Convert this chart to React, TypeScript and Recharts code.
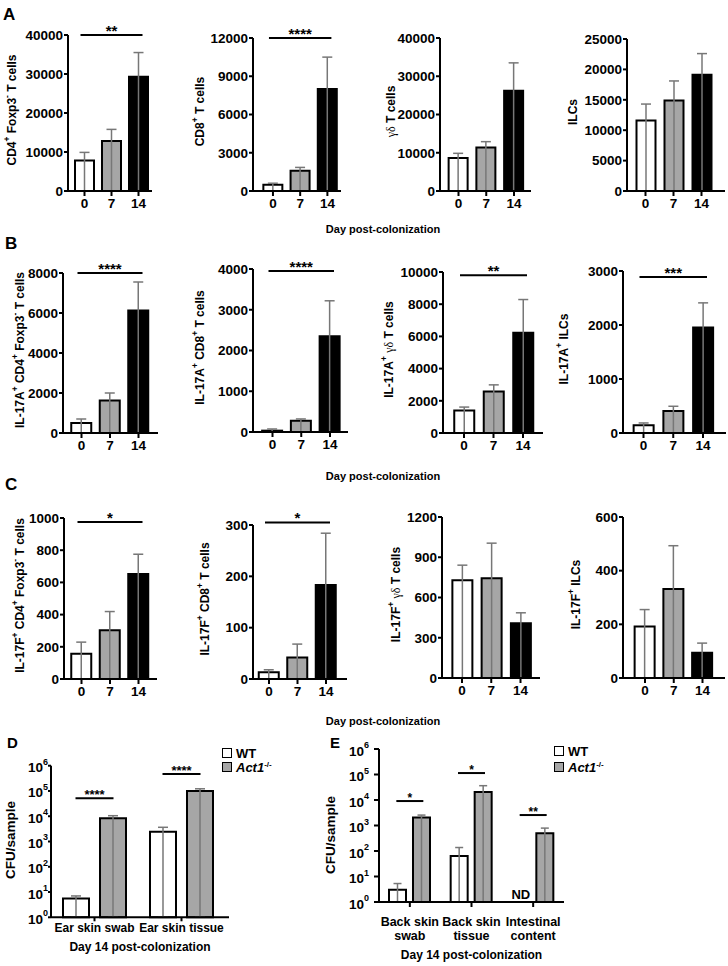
import React from "react";
import {
  BarChart,
  Bar,
  XAxis,
  YAxis,
  ErrorBar,
  Cell,
  ReferenceLine,
  Legend,
  LabelList,
} from "recharts";

const FONT = '"Liberation Sans", Arial, Helvetica, sans-serif';
const SERIF = '"Liberation Serif", "Times New Roman", serif';
const GRAY = "#a6a6a6";
const WHISKER = "#777777";

const days = ["0", "7", "14"];
const dayFills = ["#ffffff", GRAY, "#000000"];

// A - total cells
const cd4Mean = [7800, 12800, 29300];
const cd4Err = [9900, 15800, 35500];
const cd8Mean = [500, 1590, 8000];
const cd8Err = [610, 1850, 10500];
const gdMean = [8600, 11400, 26200];
const gdErr = [9850, 12900, 33500];
const ilcMean = [11600, 14900, 19100];
const ilcErr = [14300, 18100, 22600];

// B - IL-17A+
const il17aCd4Mean = [500, 1630, 6130];
const il17aCd4Err = [700, 2000, 7550];
const il17aCd8Mean = [33, 278, 2350];
const il17aCd8Err = [74, 320, 3220];
const il17aGdMean = [1400, 2580, 6230];
const il17aGdErr = [1610, 2990, 8290];
const il17aIlcMean = [142, 408, 1955];
const il17aIlcErr = [186, 495, 2410];

// C - IL-17F+
const il17fCd4Mean = [157, 303, 652];
const il17fCd4Err = [229, 419, 775];
const il17fCd8Mean = [13, 42, 183];
const il17fCd8Err = [18, 68, 284];
const il17fGdMean = [728, 743, 409];
const il17fGdErr = [841, 1005, 486];
const il17fIlcMean = [192, 332, 94];
const il17fIlcErr = [255, 493, 130];

// y ticks
const ticksA1 = [0, 10000, 20000, 30000, 40000];
const ticksA2 = [0, 3000, 6000, 9000, 12000];
const ticksA3 = [0, 10000, 20000, 30000, 40000];
const ticksA4 = [0, 5000, 10000, 15000, 20000, 25000];
const ticksB1 = [0, 2000, 4000, 6000, 8000];
const ticksB2 = [0, 1000, 2000, 3000, 4000];
const ticksB3 = [0, 2000, 4000, 6000, 8000, 10000];
const ticksB4 = [0, 1000, 2000, 3000];
const ticksC1 = [0, 200, 400, 600, 800, 1000];
const ticksC2 = [0, 100, 200, 300];
const ticksC3 = [0, 300, 600, 900, 1200];
const ticksC4 = [0, 200, 400, 600];

// significance (stars, y value of the bar)
const sigStars = ["**", "****", "", "", "****", "****", "**", "***", "*", "*", "", ""];
const sigLevel = [40000, 12000, 0, 0, 8000, 3950, 9800, 2890, 975, 305, 0, 0];

// D - ear skin, CFU/sample
const dSites = ["Ear skin swab", "Ear skin tissue"];
const dWT = [5.5, 2450];
const dWTErr = [7, 3650];
const dAct = [8300, 100000];
const dActErr = [10500, 122000];
const dSigStars = ["****", "****"];
const dSigLevel = [51000, 470000];

// E - back skin / gut, CFU/sample
const eSites = ["Back skin swab", "Back skin tissue", "Intestinal content"];
const eWT = [3, 64, null];
const eWTErr = [5.3, 137, null];
const eAct = [2080, 20500, 500];
const eActErr = [2560, 36400, 790];
const eNd = ["", "", "ND"];
const eSigStars = ["*", "*", "**"];
const eSigLevel = [9100, 114000, 2570];

const logTicks = [1, 10, 100, 1000, 10000, 100000, 1000000];

type Part = [string, string?];

const plus: Part = ["+", "sup"];
const minus: Part = ["-", "sup"];
const gd: Part = ["\u03b3\u03b4", "greek"];

const labels: Part[][] = [
  [["CD4"], plus, [" Foxp3"], minus, [" T cells"]],
  [["CD8"], plus, [" T cells"]],
  [gd, [" T cells"]],
  [["ILCs"]],
  [["IL-17A"], plus, [" CD4"], plus, [" Foxp3"], minus, [" T cells"]],
  [["IL-17A"], plus, [" CD8"], plus, [" T cells"]],
  [["IL-17A"], plus, [" "], gd, [" T cells"]],
  [["IL-17A"], plus, [" ILCs"]],
  [["IL-17F"], plus, [" CD4"], plus, [" Foxp3"], minus, [" T cells"]],
  [["IL-17F"], plus, [" CD8"], plus, [" T cells"]],
  [["IL-17F"], plus, [" "], gd, [" T cells"]],
  [["IL-17F"], plus, [" ILCs"]],
];

const means = [cd4Mean, cd8Mean, gdMean, ilcMean, il17aCd4Mean, il17aCd8Mean, il17aGdMean, il17aIlcMean, il17fCd4Mean, il17fCd8Mean, il17fGdMean, il17fIlcMean];
const errs = [cd4Err, cd8Err, gdErr, ilcErr, il17aCd4Err, il17aCd8Err, il17aGdErr, il17aIlcErr, il17fCd4Err, il17fCd8Err, il17fGdErr, il17fIlcErr];
const tickSets = [ticksA1, ticksA2, ticksA3, ticksA4, ticksB1, ticksB2, ticksB3, ticksB4, ticksC1, ticksC2, ticksC3, ticksC4];

// layout of the 12 small panels (pixels)
const layout = [
  { labelX: 12, axisX: 68, axisEnd: 152, c0: 84.5, sp: 27, topY: 35, zeroY: 191, bar: 19 },
  { labelX: 200, axisX: 253, axisEnd: 341, c0: 273, sp: 27.3, topY: 38, zeroY: 191, bar: 19 },
  { labelX: 391, axisX: 440, axisEnd: 531, c0: 458.5, sp: 27.75, topY: 38, zeroY: 191, bar: 19 },
  { labelX: 573, axisX: 627, axisEnd: 725, c0: 645.5, sp: 28, topY: 39, zeroY: 191, bar: 19 },
  { labelX: 20, axisX: 63, axisEnd: 158, c0: 81.5, sp: 28.5, topY: 273, zeroY: 433, bar: 20 },
  { labelX: 200, axisX: 253, axisEnd: 348, c0: 272.5, sp: 28.75, topY: 269, zeroY: 432, bar: 20 },
  { labelX: 389, axisX: 443, axisEnd: 543, c0: 464, sp: 29.5, topY: 272, zeroY: 433, bar: 20 },
  { labelX: 564, axisX: 623, axisEnd: 726, c0: 643.5, sp: 29.75, topY: 271, zeroY: 433, bar: 20 },
  { labelX: 20, axisX: 64, axisEnd: 157, c0: 81.5, sp: 28.5, topY: 518, zeroY: 679, bar: 20 },
  { labelX: 205, axisX: 253, axisEnd: 347, c0: 269, sp: 28.5, topY: 525, zeroY: 679, bar: 20 },
  { labelX: 396, axisX: 442, axisEnd: 540, c0: 462, sp: 29.25, topY: 517, zeroY: 678, bar: 20 },
  { labelX: 576, axisX: 623, axisEnd: 725, c0: 645, sp: 28.75, topY: 517, zeroY: 678, bar: 20 },
];

const axisLine = { stroke: "#000", strokeWidth: 2 };
const tickFont = { fontSize: 13.5, fontWeight: "bold", fill: "#000", fontFamily: FONT };

function RotLabel({ cx, cy, parts, size }: { cx: number; cy: number; parts: Part[]; size: number }) {
  let shift = 0;
  const spans = parts.map(([t, kind], i) => {
    const want = kind === "sup" ? -size * 0.42 : 0;
    const dy = want - shift;
    shift = want;
    return (
      <tspan
        key={i}
        dy={dy}
        fontSize={kind === "sup" ? size * 0.7 : size}
        fontWeight={kind === "greek" ? "normal" : "bold"}
        fontFamily={kind === "greek" ? SERIF : FONT}
      >
        {t}
      </tspan>
    );
  });
  return (
    <text
      x={cx}
      y={cy}
      transform={`rotate(-90 ${cx} ${cy})`}
      textAnchor="middle"
      dominantBaseline="central"
      fill="#000"
    >
      {spans}
    </text>
  );
}

// significance bar drawn across categories
const sigSpan = (stars: string, ext: number, size: number) => (props: any) => {
  const { x1, y1, x2 } = props;
  const xa = Math.min(x1, x2) - ext;
  const xb = Math.max(x1, x2) + ext;
  return (
    <g>
      <line x1={xa} y1={y1} x2={xb} y2={y1} stroke="#000" strokeWidth={2} />
      <text
        x={(xa + xb) / 2}
        y={y1 + 1}
        textAnchor="middle"
        fontSize={size}
        fontWeight="bold"
        fontFamily={FONT}
        fill="#000"
      >
        {stars}
      </text>
    </g>
  );
};

function SmallPanel({ idx }: { idx: number }) {
  const p = layout[idx];
  const mean = means[idx];
  const err = errs[idx];
  const ticks = tickSets[idx];
  const left = p.labelX - 10;
  const marginTop = 20;
  const top = p.topY - marginTop;
  const xAxisH = 24;
  const width = p.axisEnd - left + 4;
  const height = p.zeroY - top + xAxisH;
  const pl = p.c0 - p.sp / 2 - p.axisX;
  const pr = Math.max(0, p.axisEnd - (p.c0 + 2.5 * p.sp));
  const data = days.map((day, i) => ({
    day,
    mean: mean[i],
    whisker: [mean[i], err[i] - mean[i]],
  }));
  const max = ticks[ticks.length - 1];
  const midY = (p.topY + p.zeroY) / 2 - top - 3;
  const stars = sigStars[idx];
  return (
    <div style={{ position: "absolute", left, top }}>
      <BarChart
        width={width}
        height={height}
        data={data}
        margin={{ top: marginTop, right: 4, left: 0, bottom: 0 }}
      >
        <XAxis xAxisId="back" dataKey="day" hide padding={{ left: pl, right: pr }} />
        <XAxis
          dataKey="day"
          height={xAxisH}
          padding={{ left: pl, right: pr }}
          axisLine={axisLine}
          tickLine={axisLine}
          tickSize={5}
          tickMargin={2}
          tick={tickFont}
          interval={0}
        />
        <YAxis
          width={p.axisX - left}
          domain={[0, max]}
          ticks={ticks}
          interval={0}
          axisLine={axisLine}
          tickLine={axisLine}
          tickSize={4}
          tickMargin={1}
          tick={tickFont}
          label={{
            content: () => <RotLabel cx={10} cy={midY} parts={labels[idx]} size={12} />,
          }}
        />
        <Bar
          xAxisId="back"
          dataKey="mean"
          fill="none"
          stroke="none"
          barSize={p.bar}
          legendType="none"
          isAnimationActive={false}
        >
          <ErrorBar dataKey="whisker" direction="y" width={5} stroke={WHISKER} strokeWidth={1.5} />
        </Bar>
        <Bar dataKey="mean" barSize={p.bar} stroke="#000" strokeWidth={2} isAnimationActive={false}>
          {data.map((d, i) => (
            <Cell key={d.day} fill={dayFills[i]} />
          ))}
        </Bar>
        {stars && (
          <ReferenceLine
            segment={[
              { x: days[0], y: sigLevel[idx] },
              { x: days[2], y: sigLevel[idx] },
            ]}
            ifOverflow="visible"
            shape={sigSpan(stars, 4, 15)}
          />
        )}
      </BarChart>
    </div>
  );
}

function PowTick(props: any) {
  const { x, y, payload } = props;
  const exp = Math.round(Math.log10(payload.value));
  return (
    <text
      x={x}
      y={y + 2}
      textAnchor="end"
      dominantBaseline="central"
      fill="#000"
      fontFamily={FONT}
      fontWeight="bold"
      fontSize={13.5}
    >
      10
      <tspan dy={-6} fontSize={9}>
        {exp}
      </tspan>
    </text>
  );
}

function TwoLineTick(props: any) {
  const { x, y, payload } = props;
  const s: string = payload.value;
  const cut = s.lastIndexOf(" ");
  const lines = [s.slice(0, cut), s.slice(cut + 1)];
  return (
    <text x={x} y={y} textAnchor="middle" fill="#000" fontFamily={FONT} fontWeight="bold" fontSize={12.5}>
      {lines.map((l, i) => (
        <tspan key={i} x={x} dy={i === 0 ? 9 : 14}>
          {l}
        </tspan>
      ))}
    </text>
  );
}

const legendOrder = ["WT", "Act1"];

const renderLegend = (rowH: number) => (props: any) => {
  const items = legendOrder
    .map((name) => (props.payload || []).find((e: any) => e.value === name))
    .filter(Boolean);
  return (
    <div style={{ fontFamily: FONT, fontWeight: "bold", fontSize: 13, color: "#000" }}>
      {items.map((e: any) => (
        <div key={e.value} style={{ display: "flex", alignItems: "center", height: rowH }}>
          <span
            style={{
              display: "inline-block",
              width: 8,
              height: 8,
              border: "1.5px solid #000",
              background: e.color,
              marginRight: 4,
            }}
          />
          {e.value === "WT" ? (
            "WT"
          ) : (
            <span>
              <i>Act1</i>
              <sup style={{ fontSize: 8, lineHeight: 0 }}>-/-</sup>
            </span>
          )}
        </div>
      ))}
    </div>
  );
};

function NdLabel(props: any) {
  const vb = props.viewBox ?? props;
  if (!props.value) return null;
  const cx = vb.x - 7 - vb.width / 2;
  return (
    <text x={cx} y={vb.y + vb.height - 3} textAnchor="middle" fontFamily={FONT} fontWeight="bold" fontSize={13} fill="#000">
      {props.value}
    </text>
  );
}

function PanelD() {
  const left = 0;
  const top = 735;
  const axisX = 51;
  const topY = 765.7;
  const zeroY = 917.3;
  const width = 290;
  const axisEnd = 229;
  const xAxisH = 34;
  const bottom = 8;
  const data = dSites.map((site, i) => ({
    site,
    wt: dWT[i],
    act: dAct[i],
    wtWhisker: [dWT[i] - 1, dWTErr[i] - dWT[i]],
    actWhisker: [dAct[i] - 1, dActErr[i] - dAct[i]],
  }));
  const pad = { left: 0, right: 4 };
  return (
    <div style={{ position: "absolute", left, top }}>
      <BarChart
        width={width}
        height={zeroY - top + xAxisH + bottom}
        data={data}
        margin={{ top: topY - top, right: left + width - axisEnd, left: 0, bottom }}
        barGap={11}
      >
        <XAxis xAxisId="back" dataKey="site" hide padding={pad} />
        <XAxis
          dataKey="site"
          height={xAxisH}
          padding={pad}
          axisLine={axisLine}
          tickLine={axisLine}
          tickSize={4}
          tickMargin={2}
          tick={{ ...tickFont, fontSize: 12 }}
          interval={0}
          label={{
            value: "Day 14 post-colonization",
            position: "insideBottom",
            offset: 0,
            fontSize: 12,
            fontWeight: "bold",
            fill: "#000",
            fontFamily: FONT,
          }}
        />
        <YAxis
          width={axisX - left}
          scale="log"
          domain={[1, 1000000]}
          ticks={logTicks}
          interval={0}
          axisLine={axisLine}
          tickLine={axisLine}
          tickSize={3}
          tickMargin={0}
          tick={<PowTick />}
          label={{
            content: () => <RotLabel cx={10} cy={105} parts={[["CFU/sample"]]} size={13.5} />,
          }}
        />
        <Bar xAxisId="back" dataKey="wt" name="wt-back" fill="none" stroke="none" barSize={26} legendType="none" isAnimationActive={false}>
          <ErrorBar dataKey="wtWhisker" direction="y" width={5} stroke={WHISKER} strokeWidth={1.5} />
        </Bar>
        <Bar xAxisId="back" dataKey="act" name="act-back" fill="none" stroke="none" barSize={26} legendType="none" isAnimationActive={false}>
          <ErrorBar dataKey="actWhisker" direction="y" width={5} stroke={WHISKER} strokeWidth={1.5} />
        </Bar>
        <Bar dataKey="wt" name="WT" fill="#ffffff" stroke="#000" strokeWidth={2} barSize={26} isAnimationActive={false} />
        <Bar dataKey="act" name="Act1" fill={GRAY} stroke="#000" strokeWidth={2} barSize={26} isAnimationActive={false} />
        {dSites.map((s, i) => (
          <ReferenceLine
            key={s}
            segment={[
              { x: s, y: dSigLevel[i] },
              { x: s, y: dSigLevel[i] },
            ]}
            ifOverflow="visible"
            shape={sigSpan(dSigStars[i], 19, 13)}
          />
        ))}
        <Legend
          layout="vertical"
          align="center"
          verticalAlign="middle"
          content={renderLegend(14)}
          wrapperStyle={{ left: 222, top: 11, width: 70, height: 30 }}
        />
      </BarChart>
    </div>
  );
}

function PanelE() {
  const left = 320;
  const top = 735;
  const axisX = 379;
  const topY = 749;
  const zeroY = 902;
  const width = 300;
  const axisEnd = 564;
  const xAxisH = 57;
  const bottom = 6;
  const data = eSites.map((site, i) => ({
    site,
    wt: eWT[i],
    act: eAct[i],
    nd: eNd[i],
    wtWhisker: eWT[i] == null ? null : [(eWT[i] as number) - 1, (eWTErr[i] as number) - (eWT[i] as number)],
    actWhisker: [eAct[i] - 1, eActErr[i] - eAct[i]],
  }));
  const pad = { left: 0, right: 0 };
  return (
    <div style={{ position: "absolute", left, top }}>
      <BarChart
        width={width}
        height={zeroY - top + xAxisH + bottom}
        data={data}
        margin={{ top: topY - top, right: left + width - axisEnd, left: 0, bottom }}
        barGap={7}
      >
        <XAxis xAxisId="back" dataKey="site" hide padding={pad} />
        <XAxis
          dataKey="site"
          height={xAxisH}
          padding={pad}
          axisLine={axisLine}
          tickLine={axisLine}
          tickSize={5}
          tickMargin={10}
          tick={<TwoLineTick />}
          interval={0}
          label={{
            value: "Day 14 post-colonization",
            position: "insideBottom",
            offset: 0,
            fontSize: 12,
            fontWeight: "bold",
            fill: "#000",
            fontFamily: FONT,
          }}
        />
        <YAxis
          width={axisX - left}
          scale="log"
          domain={[1, 1000000]}
          ticks={logTicks}
          interval={0}
          axisLine={axisLine}
          tickLine={axisLine}
          tickSize={5}
          tickMargin={5}
          tick={<PowTick />}
          label={{
            content: () => <RotLabel cx={10} cy={100} parts={[["CFU/sample"]]} size={13.5} />,
          }}
        />
        <Bar xAxisId="back" dataKey="wt" name="wt-back" fill="none" stroke="none" barSize={17} legendType="none" isAnimationActive={false}>
          <ErrorBar dataKey="wtWhisker" direction="y" width={4} stroke={WHISKER} strokeWidth={1.5} />
        </Bar>
        <Bar xAxisId="back" dataKey="act" name="act-back" fill="none" stroke="none" barSize={17} legendType="none" isAnimationActive={false}>
          <ErrorBar dataKey="actWhisker" direction="y" width={4} stroke={WHISKER} strokeWidth={1.5} />
        </Bar>
        <Bar dataKey="wt" name="WT" fill="#ffffff" stroke="#000" strokeWidth={2} barSize={17} isAnimationActive={false} />
        <Bar dataKey="act" name="Act1" fill={GRAY} stroke="#000" strokeWidth={2} barSize={17} isAnimationActive={false}>
          <LabelList dataKey="nd" content={<NdLabel />} />
        </Bar>
        {eSites.map((s, i) => (
          <ReferenceLine
            key={s}
            segment={[
              { x: s, y: eSigLevel[i] },
              { x: s, y: eSigLevel[i] },
            ]}
            ifOverflow="visible"
            shape={sigSpan(eSigStars[i], 13.5, 12)}
          />
        ))}
        <Legend
          layout="vertical"
          align="center"
          verticalAlign="middle"
          content={renderLegend(16)}
          wrapperStyle={{ left: 234, top: 8, width: 70, height: 34 }}
        />
      </BarChart>
    </div>
  );
}

const letterStyle: React.CSSProperties = {
  position: "absolute",
  fontFamily: FONT,
  fontWeight: "bold",
  lineHeight: 1,
  color: "#000",
};

const rowTitleTops = [224, 471, 716];
const panelLetters: [string, number, number, number][] = [
  ["A", 3, 6, 17],
  ["B", 5, 235, 17],
  ["C", 5, 476, 17],
  ["D", 7, 735, 15],
  ["E", 330, 735, 15],
];

export default function App() {
  return (
    <div
      style={{
        position: "relative",
        width: 728,
        height: 966,
        background: "#fff",
        overflow: "hidden",
      }}
    >
      <style>{`body{margin:0;}`}</style>
      {panelLetters.map(([t, x, y, s]) => (
        <div key={t} style={{ ...letterStyle, left: x, top: y, fontSize: s }}>
          {t}
        </div>
      ))}
      {rowTitleTops.map((y) => (
        <div
          key={y}
          style={{ ...letterStyle, left: 283, width: 200, top: y, fontSize: 11, textAlign: "center" }}
        >
          Day post-colonization
        </div>
      ))}
      {layout.map((_, i) => (
        <SmallPanel key={i} idx={i} />
      ))}
      <PanelD />
      <PanelE />
    </div>
  );
}
